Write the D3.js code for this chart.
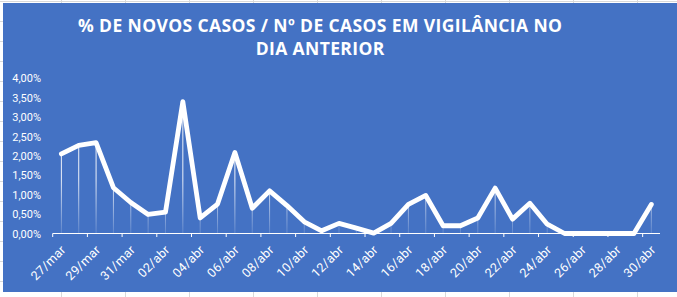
<!DOCTYPE html>
<html><head><meta charset="utf-8">
<script src="https://cdn.jsdelivr.net/npm/d3@7"></script>
<style>html,body{margin:0;padding:0;background:#fff;}svg{display:block;}</style>
</head><body>
<script>
const categories = ["27/mar","28/mar","29/mar","30/mar","31/mar","01/abr","02/abr","03/abr","04/abr","05/abr","06/abr","07/abr","08/abr","09/abr","10/abr","11/abr","12/abr","13/abr","14/abr","15/abr","16/abr","17/abr","18/abr","19/abr","20/abr","21/abr","22/abr","23/abr","24/abr","25/abr","26/abr","27/abr","28/abr","29/abr","30/abr"];
const values = [0.0205,0.0227,0.0234,0.0118,0.0080,0.0049,0.0055,0.0340,0.0040,0.0076,0.0209,0.0065,0.0110,0.0072,0.0030,0.0007,0.0026,0.0014,0.0001,0.0026,0.0075,0.0098,0.0020,0.0020,0.0040,0.0117,0.0037,0.0078,0.0024,0,0,0,0,0,0.0075];
const tickLabels = categories.filter((d,i)=>i%2===0);
const yTicks = [0,0.005,0.01,0.015,0.02,0.025,0.03,0.035,0.04];
const titleLines = ["% DE NOVOS CASOS / Nº DE CASOS EM VIGILÂNCIA NO","DIA ANTERIOR"];

const W=677,H=297;
const svg=d3.select("body").append("svg").attr("width",W).attr("height",H);
const grid="#d9d9d9";
svg.append("line").attr("x1",0).attr("x2",W).attr("y1",1.5).attr("y2",1.5).attr("stroke",grid);
for(let x=61;x<W;x+=64){svg.append("line").attr("x1",x+0.5).attr("x2",x+0.5).attr("y1",0).attr("y2",H).attr("stroke",grid);}
for(let y=21;y<H;y+=20){svg.append("line").attr("x1",0).attr("x2",W).attr("y1",y+0.5).attr("y2",y+0.5).attr("stroke",grid);}
svg.append("rect").attr("x",3).attr("y",3).attr("width",W-3).attr("height",289).attr("fill","#4472C4");

const defs=svg.append("defs");
const g=defs.append("linearGradient").attr("id","drop").attr("gradientUnits","userSpaceOnUse")
  .attr("x1",0).attr("x2",0).attr("y1",78).attr("y2",233);
g.append("stop").attr("offset","0.65").attr("stop-color","#fff").attr("stop-opacity",0.9);
g.append("stop").attr("offset","1").attr("stop-color","#fff").attr("stop-opacity",0.15);

const x=d3.scaleBand().domain(categories).range([52.7,660]).padding(0);
const y=d3.scaleLinear().domain([0,0.04]).range([233.5,78.3]);
const loc=d3.formatLocale({decimal:",",thousands:".",grouping:[3],currency:["","€"]});
const fmt=loc.format(".2%");
const font="Roboto, 'Liberation Sans', sans-serif";

const ya=svg.append("g").attr("transform","translate(41,0)")
  .call(d3.axisLeft(y).tickValues(yTicks).tickFormat(fmt).tickSize(0).tickPadding(0));
ya.select(".domain").remove();
ya.selectAll("text").attr("fill","#fff").style("font-family",font).style("font-size","11px");

const cx=d=>x(d)+x.bandwidth()/2;
svg.append("g").selectAll("line").data(categories).join("line")
  .attr("x1",d=>cx(d)).attr("x2",d=>cx(d))
  .attr("y1",(d,i)=>y(values[i])).attr("y2",y(0))
  .attr("stroke","url(#drop)").attr("stroke-width",1);

const xa=svg.append("g").attr("transform",`translate(0,${y(0)})`);
xa.append("line").attr("x1",52.7).attr("x2",660).attr("stroke","#fff").attr("stroke-width",1);
xa.selectAll(".tk").data(categories.filter((d,i)=>i%2===0)).join("line").attr("class","tk")
  .attr("x1",d=>x(d)).attr("x2",d=>x(d)).attr("y1",0).attr("y2",3.5)
  .attr("stroke","#fff").attr("stroke-width",1);
xa.selectAll("text").data(tickLabels).join("text")
  .attr("transform",d=>`translate(${cx(d)+2},14) rotate(-45)`)
  .attr("text-anchor","end").attr("dy","0.35em")
  .attr("fill","#fff").style("font-family",font).style("font-size","12.5px")
  .style("letter-spacing","0.3px")
  .text(d=>d);

svg.append("path").datum(values)
  .attr("d",d3.line().x((d,i)=>cx(categories[i])).y(d=>y(d)))
  .attr("fill","none").attr("stroke","#fff").attr("stroke-width",4.8)
  .attr("stroke-linejoin","round").attr("stroke-linecap","round");

const tfont="'Open Sans', sans-serif";
const tg=svg.append("g");
const t1=tg.append("text").attr("x",320).attr("y",31.5).attr("text-anchor","middle")
  .attr("fill","#fff").style("font-family",tfont).style("font-weight","bold").style("font-size","17.5px")
  .text(titleLines[0]);
const t2=tg.append("text").attr("x",320).attr("y",55).attr("text-anchor","middle")
  .attr("fill","#fff").style("font-family",tfont).style("font-weight","bold").style("font-size","17.5px")
  .text(titleLines[1]);
const target=484;
const w1=t1.node().getComputedTextLength();
const ls=(target-w1)/(titleLines[0].length-1);
t1.style("letter-spacing",ls+"px");t2.style("letter-spacing",ls+"px");
t1.attr("x",320+ls/2);t2.attr("x",320+ls/2);
</script>
</body></html>
